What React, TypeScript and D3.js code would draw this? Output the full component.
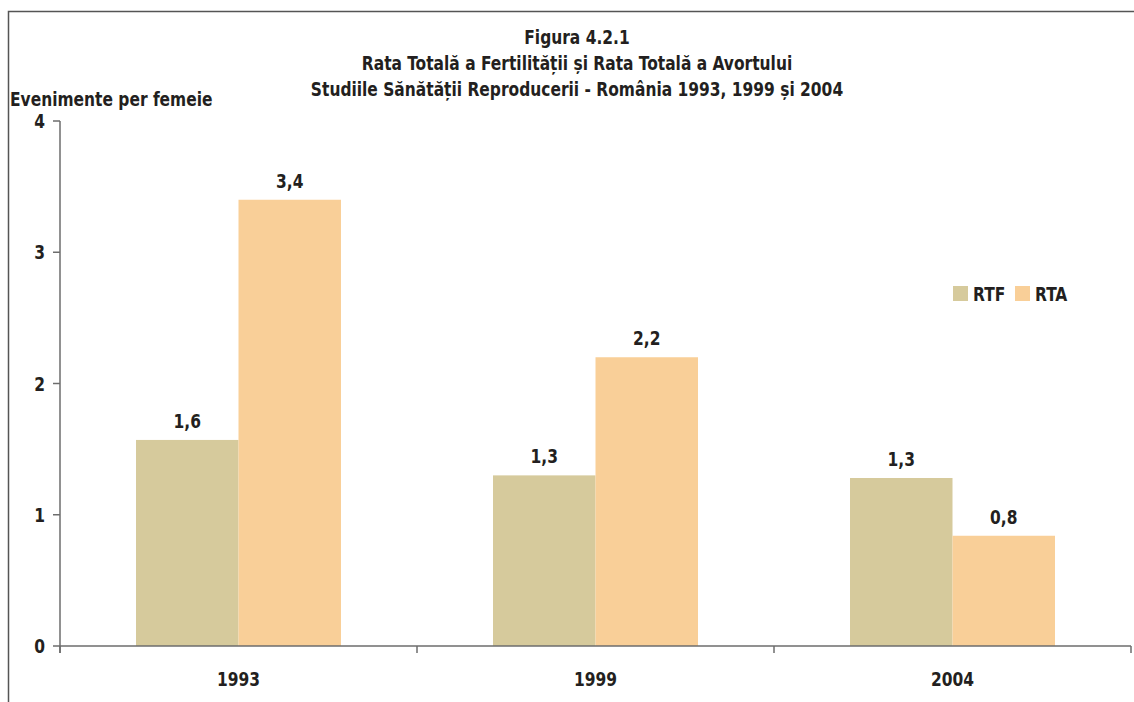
import React from 'react';
import * as d3 from 'd3';

const years = ['1993', '1999', '2004'];
const seriesNames = ['RTF', 'RTA'];
const rtfValues = [1.57, 1.30, 1.28];
const rtaValues = [3.40, 2.20, 0.84];
const yTicks = [0, 1, 2, 3, 4];
const titleLines = [
    'Figura 4.2.1',
    'Rata Totală a Fertilității și Rata Totală a Avortului',
    'Studiile Sănătății Reproducerii - România 1993, 1999 și 2004',
];
const yAxisTitle = 'Evenimente per femeie';

const colors = ['#D6CA9C', '#F9CF98'];
const textColor = '#231F20';
const font = '"Liberation Sans Narrow", "DejaVu Sans Condensed", sans-serif';

const W = 1134;
const H = 702;
const plot = { left: 60, right: 1131, top: 121, bottom: 646 };

// condensed bold label: the original uses a narrow heavy face, squeeze a little
const Label = ({ x, y, anchor = 'start', children }: { x: number; y: number; anchor?: string; children: React.ReactNode }) => (
    <text transform={`translate(${x},${y}) scale(0.86,1)`} textAnchor={anchor}
        fill={textColor} fontWeight="bold" fontSize={20}>{children}</text>
);

export default function App() {
    const x = d3.scaleBand().domain(years).range([plot.left, plot.right]);
    const inner = d3.scaleBand().domain(seriesNames).range([0, 205]);
    const y = d3.scaleLinear().domain([0, 4]).range([plot.bottom, plot.top]);
    const fmt = (v: number) => d3.format('.1f')(v).replace('.', ',');
    const series = [rtfValues, rtaValues];
    const groupOffset = (x.bandwidth() - 205) / 2;

    return (
        <div style={{ position: 'absolute', left: 0, top: 0 }}>
            <svg width={W} height={H} style={{ display: 'block', fontFamily: font }}>
                <rect x={0} y={0} width={W} height={H} fill="#fff" />
                {/* frame */}
                <path d={`M8.5,${H + 2} V11.5 H${W + 2}`} fill="none" stroke="#555" strokeWidth={1.5} />

                {/* title */}
                {titleLines.map((t, i) => (
                    <Label key={i} x={577} y={44 + i * 26} anchor="middle">{t}</Label>
                ))}
                <Label x={10} y={106}>{yAxisTitle}</Label>

                {/* bars */}
                {series.map((vals, si) =>
                    vals.map((v, i) => {
                        const bx = x(years[i])! + groupOffset + inner(seriesNames[si])!;
                        return (
                            <g key={`${si}-${i}`}>
                                <rect x={bx} y={y(v)} width={inner.bandwidth()} height={y(0) - y(v)} fill={colors[si]} />
                                <Label x={bx + inner.bandwidth() / 2} y={y(v) - 12} anchor="middle">{fmt(v)}</Label>
                            </g>
                        );
                    })
                )}

                {/* axes */}
                <g stroke="#6d6d6d" strokeWidth={1.5}>
                    <line x1={plot.left} x2={plot.left} y1={plot.top} y2={plot.bottom + 7} />
                    {yTicks.map(t => (
                        <line key={t} x1={plot.left - 7} x2={plot.left} y1={y(t)} y2={y(t)} />
                    ))}
                    <line x1={plot.left} x2={plot.right} y1={plot.bottom} y2={plot.bottom} />
                    {[...years.map(c => x(c)!), plot.right].map((tx, i) => (
                        <line key={i} x1={tx} x2={tx} y1={plot.bottom} y2={plot.bottom + 7} />
                    ))}
                </g>
                {yTicks.map(t => (
                    <Label key={t} x={45} y={y(t) + 7} anchor="end">{t}</Label>
                ))}
                {years.map(c => (
                    <Label key={c} x={x(c)! + x.bandwidth() / 2} y={686} anchor="middle">{c}</Label>
                ))}

                {/* legend */}
                {seriesNames.map((s, i) => (
                    <g key={s} transform={`translate(${953 + i * 62},286)`}>
                        <rect x={0} y={0} width={15} height={15} fill={colors[i]} />
                        <Label x={20} y={14.5}>{s}</Label>
                    </g>
                ))}
            </svg>
        </div>
    );
}
